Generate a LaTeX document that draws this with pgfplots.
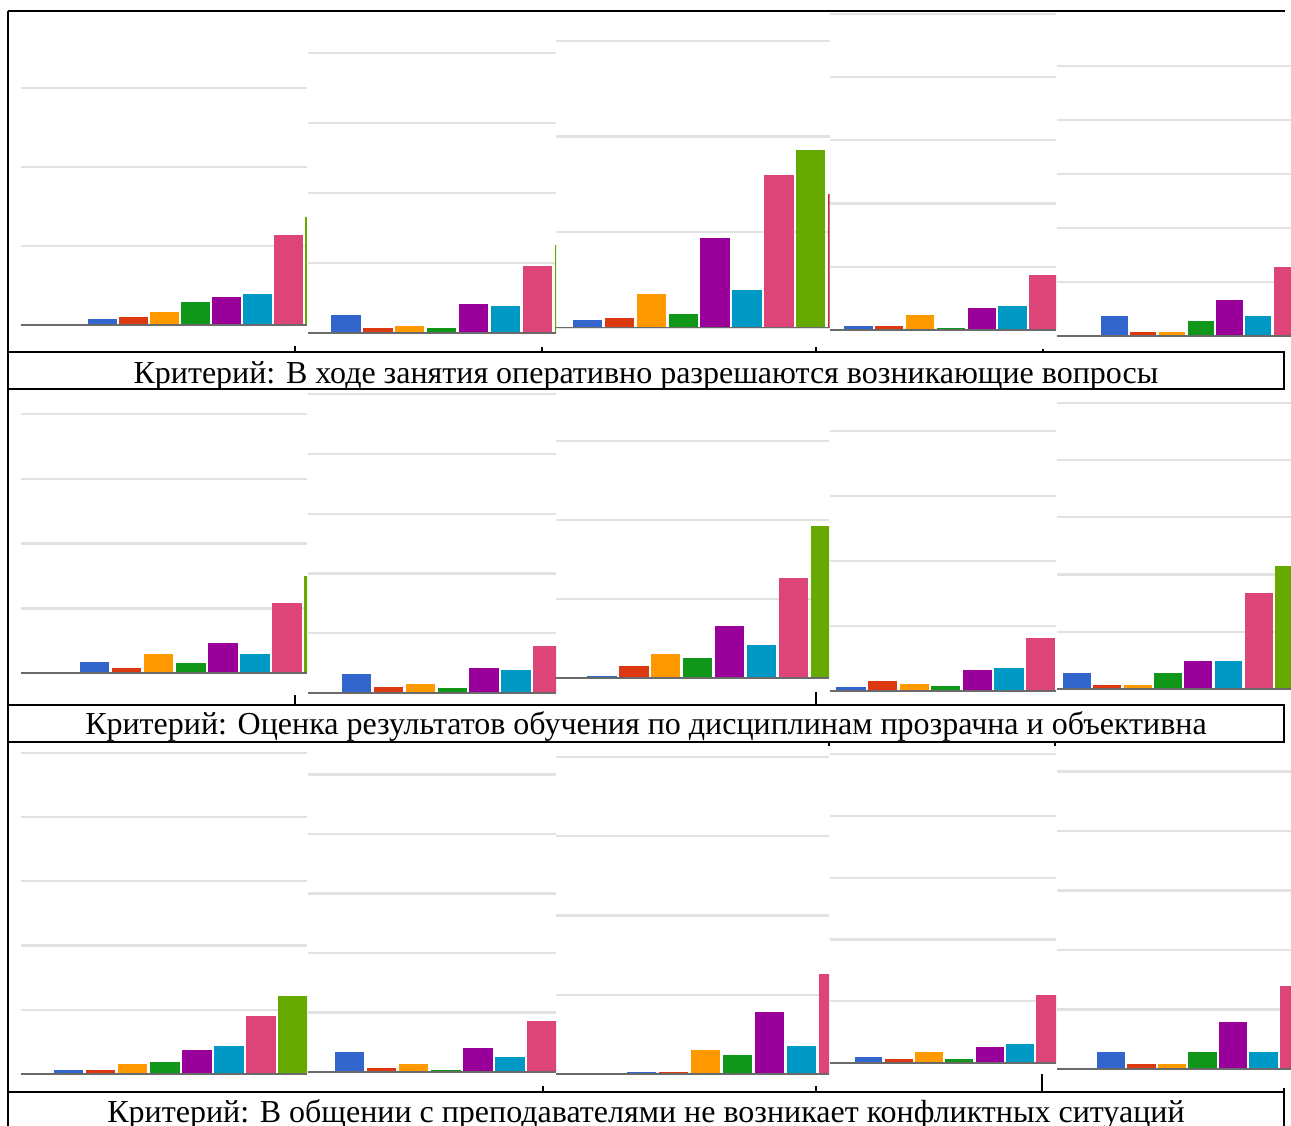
\documentclass[border=0pt]{standalone}
\usepackage{pgfplots}
\usepackage{pgfplotstable}
\pgfplotsset{compat=1.18}
\usepackage{fontspec}
\setmainfont{Liberation Serif}

% Google chart palette, one colour per answer
\definecolor{k1}{HTML}{3366CC}
\definecolor{k2}{HTML}{DC3912}
\definecolor{k3}{HTML}{FF9900}
\definecolor{k4}{HTML}{109618}
\definecolor{k5}{HTML}{990099}
\definecolor{k6}{HTML}{0099C6}
\definecolor{k7}{HTML}{DD4477}
\definecolor{k8}{HTML}{66AA00}
\definecolor{k9}{HTML}{B82E2E}
\definecolor{gridc}{HTML}{E2E2E2}
\definecolor{basec}{HTML}{6A6A6A}

% bar heights, grid step = 10; a = row 1, b = row 2, c = row 3
\pgfplotstableread{
k a1    a2    a3    a4   a5    b1    b2   b3    b4   b5    c1    c2   c3    c4    c5
1 0.76  2.57  0.83  0.63 3.70  1.70  3.18 0.25  0.62 2.79  0.62  3.36 0.25  0.97  2.86
2 1.01  0.71  1.04  0.63 0.74  0.77  1.00 1.52  1.54 0.70  0.62  0.67 0.25  0.65  0.84
3 1.65  1.00  3.54  2.38 0.74  2.94  1.51 3.04  1.08 0.70  1.56  1.34 3.03  1.78  0.84
4 2.91  0.71  1.46  0.32 2.78  1.55  0.84 2.53  0.77 2.79  1.87  0.34 2.40  0.65  2.86
5 3.54  4.14  9.38  3.49 6.67  4.64  4.18 6.58  3.23 4.89  3.74  4.03 7.82  2.59  7.90
6 3.92  3.86  3.96  3.81 3.70  2.94  3.85 4.18  3.54 4.89  4.36  2.52 3.53  3.08  2.86
7 11.39 9.57  15.94 8.73 12.78 10.82 7.87 12.66 8.15 16.77 9.03  8.57 12.61 11.01 13.95
8 13.67 12.57 18.65 nan  nan   14.99 nan  19.24 nan  21.48 12.14 nan  nan   nan   nan
9 nan   nan   13.96 nan  nan   nan   nan  nan   nan  nan   nan   nan  nan   nan   nan
}\bars

\pgfplotsset{panel/.style={
  scale only axis, anchor=south west,
  ymin=0, ytick distance=10, yticklabels={}, xtick=\empty,
  major tick length=0pt, tick style={draw=none},
  ymajorgrids, grid style={line width=2.4pt, color=gridc},
  axis line style={draw=none}, clip=true,
  unbounded coords=discard}}

% #1 left, #2 right, #3 top, #4 baseline, #5 grid step (all px),
% #6 centre of first bar, #7 bar pitch, #8 column
\newcommand\panel[8]{%
  \pgfmathsetmacro\pxmin{(#1-#6)/#7+1}%
  \pgfmathsetmacro\pxmax{(#2-#6)/#7+1}%
  \pgfmathsetmacro\pymax{(#4-#3)/#5*10}%
  \pgfmathsetmacro\pw{#2-#1}%
  \pgfmathsetmacro\ph{#4-#3}%
  \begin{axis}[panel, at={(#1pt,-#4pt)}, width=\pw pt, height=\ph pt,
      xmin=\pxmin, xmax=\pxmax, ymax=\pymax]
    \pgfplotsinvokeforeach{1,...,9}{%
      \addplot[ybar, bar width=0.92, bar shift=0pt, fill=k##1, draw=none,
          x filter/.expression={x==##1 ? x : nan}]
        table[x=k, y=#8] {\bars};}
    \draw[basec, line width=2pt] (rel axis cs:0,0) -- (rel axis cs:1,0);
  \end{axis}}

\begin{document}
\begin{tikzpicture}
\path[use as bounding box] (0,0) rectangle (1291pt,-1126pt);
\fill[white] (0,0) rectangle (1291pt,-1126pt);

\panel{21}{307}{11}{325}{79}{102.5}{31}{a1}
\panel{308}{556}{11}{333}{70}{346}{31.9}{a2}
\panel{556}{829.5}{11}{328}{95.7}{587.5}{31.9}{a3}
\panel{830}{1056}{12}{330}{63.25}{858.5}{30.8}{a4}
\panel{1057}{1291}{13}{336}{54}{1114.5}{28.75}{a5}

\panel{21}{307}{390}{673}{64.7}{94.5}{32.1}{b1}
\panel{308}{556}{390}{693}{59.75}{356.5}{31.9}{b2}
\panel{556}{829}{390}{678}{79}{602}{31.9}{b3}
\panel{830}{1056}{390}{691}{65}{851}{31.6}{b4}
\panel{1057}{1291}{390}{689}{57.25}{1077}{30.3}{b5}

\panel{21}{307}{743}{1074}{64.25}{68.5}{32.1}{c1}
\panel{308}{556}{743}{1072}{59.5}{349.5}{32.1}{c2}
\panel{556}{829}{743}{1074}{79.3}{641.5}{32}{c3}
\panel{830}{1056}{743}{1063}{61.75}{868.5}{30.3}{c4}
\panel{1057}{1291}{743}{1069}{59.5}{1111}{30.5}{c5}

% table rules
\begin{scope}[line width=1.6pt]
\draw (8pt,-11pt) -- (1285pt,-11pt);
\draw (8pt,-11pt) -- (8pt,-1126pt);
\draw (8pt,-352pt) -- (1284pt,-352pt) -- (1284pt,-389pt) -- (8pt,-389pt);
\draw (8pt,-705pt) -- (1284pt,-705pt) -- (1284pt,-742pt) -- (8pt,-742pt);
\draw (8pt,-1092pt) -- (1284pt,-1092pt);
\draw (1284pt,-1088pt) -- (1284pt,-1126pt);
\draw (295pt,-346pt) -- (295pt,-352pt);
\draw (542pt,-347pt) -- (542pt,-352pt);
\draw (816pt,-347pt) -- (816pt,-352pt);
\draw (1043pt,-349pt) -- (1043pt,-352pt);
\draw (295pt,-695pt) -- (295pt,-705pt);
\draw (816pt,-692pt) -- (816pt,-705pt);
\draw (829pt,-742pt) -- (829pt,-746pt);
\draw (1055pt,-742pt) -- (1055pt,-746pt);
\draw (543pt,-1086pt) -- (543pt,-1092pt);
\draw (816pt,-1086pt) -- (816pt,-1092pt);
\draw (1042pt,-1074pt) -- (1042pt,-1092pt);
\end{scope}

\begin{scope}[every node/.style={anchor=base, inner sep=0pt, font=\fontsize{32}{32}\selectfont}]
\node at (646pt,-383pt) {Критерий: В ходе занятия оперативно разрешаются возникающие вопросы};
\node at (646pt,-734pt) {Критерий: Оценка результатов обучения по дисциплинам прозрачна и объективна};
\node at (646pt,-1122pt) {Критерий: В общении с преподавателями не возникает конфликтных ситуаций};
\end{scope}
\end{tikzpicture}
\end{document}
